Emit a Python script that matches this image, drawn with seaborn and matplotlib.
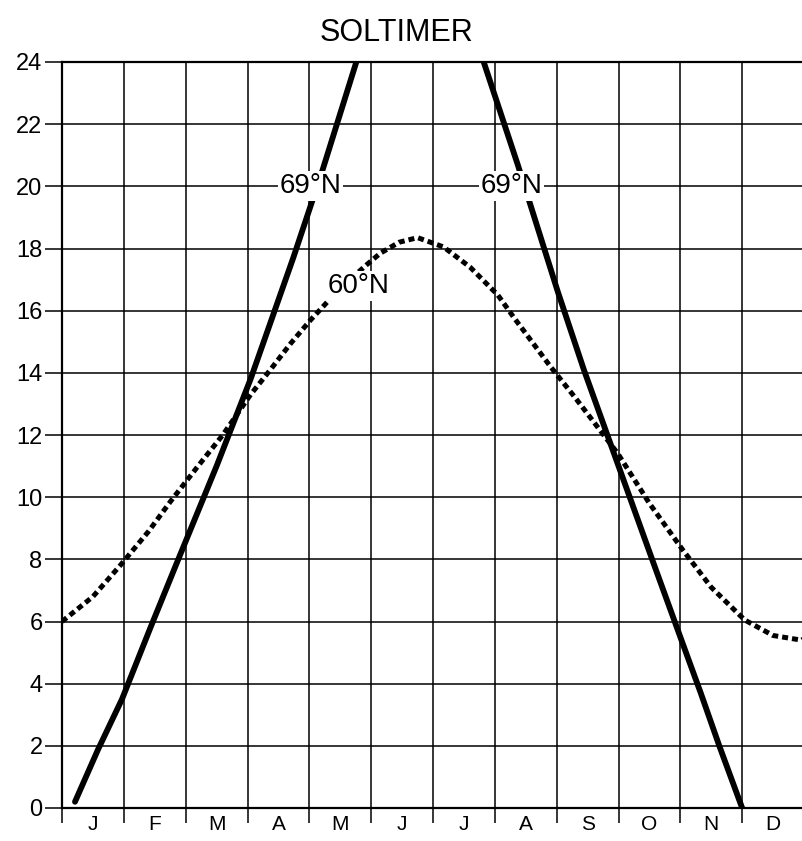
import matplotlib
matplotlib.use("Agg")
import matplotlib.pyplot as plt
import seaborn as sns

# month letters and hour ticks
month_labels = ["J", "F", "M", "A", "M", "J", "J", "A", "S", "O", "N", "D"]
hour_ticks = list(range(0, 25, 2))

# 69°N - rising part (month position, hours of daylight)
rise_m = [0.21, 0.58, 0.97, 1.43, 1.86, 2.5, 3.05, 3.74, 4.21, 4.76]
rise_h = [0.2, 1.87, 3.5, 5.8, 7.9, 11.0, 13.8, 17.7, 20.5, 24.0]

# 69°N - falling part
fall_m = [6.82, 7.37, 8.02, 8.44, 8.91, 9.2, 9.58, 10.0, 10.33, 10.63, 11.0]
fall_h = [24.0, 20.7, 16.6, 14.1, 11.5, 9.9, 7.8, 5.5, 3.7, 2.0, 0.0]

# 60°N
m60 = [0.0, 0.5, 0.94, 1.4, 1.75, 2.2, 2.6, 3.05, 3.37, 3.7, 4.02, 4.3, 4.6, 4.94,
       5.15, 5.45, 5.75, 6.17, 6.6, 7.05, 7.3, 7.6, 7.9, 8.3, 8.99, 9.5, 10.04,
       10.5, 11.04, 11.5, 11.96, 12.0]
h60 = [6.0, 6.8, 7.8, 8.9, 9.85, 11.0, 12.0, 13.3, 14.1, 14.95, 15.7, 16.3, 16.9, 17.5,
       17.85, 18.2, 18.35, 18.05, 17.4, 16.5, 15.8, 15.0, 14.2, 13.2, 11.4, 9.8, 8.3,
       7.1, 6.05, 5.55, 5.4, 5.45]

sns.set_style("white")
plt.rcParams['font.family'] = ['Liberation Sans', 'DejaVu Sans']
plt.rcParams['text.color'] = 'black'
plt.rcParams['xtick.color'] = 'black'
plt.rcParams['ytick.color'] = 'black'

fig = plt.figure(figsize=(8.02, 8.41), dpi=100)
ax = fig.add_axes([62 / 802, 33 / 841, 742 / 802, 746 / 841])

sns.lineplot(x=m60, y=h60, ax=ax, color='black', linewidth=3.6, sort=False,
             linestyle=(0, (1.2, 0.8)), dash_capstyle='butt', zorder=3)
sns.lineplot(x=rise_m, y=rise_h, ax=ax, color='black', linewidth=4.2, sort=False,
             solid_joinstyle='round', zorder=4)
sns.lineplot(x=fall_m, y=fall_h, ax=ax, color='black', linewidth=4.2, sort=False,
             solid_joinstyle='round', zorder=4)

ax.set_xlim(0, 12)
ax.set_ylim(0, 24)
ax.set_xticks(range(13))
ax.set_xticklabels([])
ax.set_xticks([i + 0.5 for i in range(12)], minor=True)
ax.set_xticklabels(month_labels, minor=True, fontsize=15)
ax.set_yticks(hour_ticks)
ax.set_yticklabels([str(h) for h in hour_ticks], fontsize=17)

ax.tick_params(axis='x', which='major', length=11, width=1.1, bottom=True)
ax.tick_params(axis='x', which='minor', length=0, pad=5)
ax.tick_params(axis='y', length=12, width=1.1, pad=2, left=True)
ax.grid(True, which='major', color='black', linewidth=1.1)
ax.set_axisbelow(True)
for s in ax.spines.values():
    s.set_color('black')
    s.set_linewidth(1.6)

box = dict(facecolor='white', edgecolor='none', pad=1.5)
ax.text(4.02, 20.0, "69°N", fontsize=20, ha='center', va='center', bbox=box, zorder=5)
ax.text(7.27, 20.0, "69°N", fontsize=20, ha='center', va='center', bbox=box, zorder=5)
ax.text(4.8, 16.8, "60°N", fontsize=20, ha='center', va='center', bbox=box, zorder=5)

fig.text(396 / 802, 1 - 33 / 841, "SOLTIMER", fontsize=22, ha='center', va='center')

fig.savefig('out.png', dpi=100)
